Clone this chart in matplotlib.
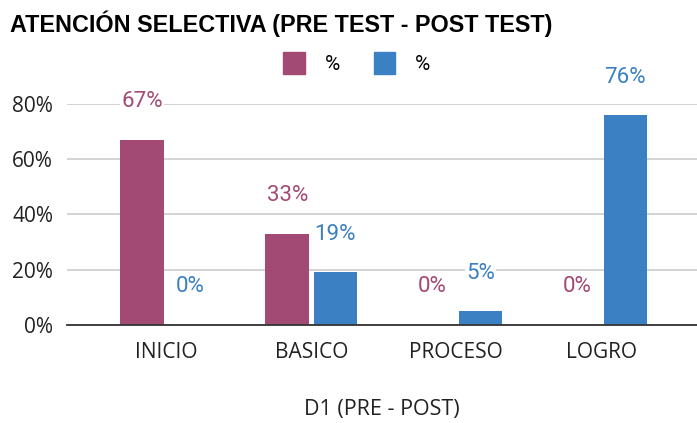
import matplotlib
matplotlib.use("Agg")
import matplotlib.pyplot as plt
import numpy as np
from matplotlib.patches import Patch

categories = ["INICIO", "BASICO", "PROCESO", "LOGRO"]
pre_values = [0.67, 0.33, 0.0, 0.0]
post_values = [0.0, 0.19, 0.05, 0.76]
series_names = ["%", "%"]
yticks = [0, 0.2, 0.4, 0.6, 0.8]
ytick_labels = ["0%", "20%", "40%", "60%", "80%"]

pink = "#A34A74"
blue = "#3B80C2"

fig = plt.figure(figsize=(6.97, 4.23), dpi=100)
ax = fig.add_axes([0.096, 0.2317, 0.904, 0.5225])

x = np.arange(len(categories))
w = 0.30
off = 0.166
ax.bar(x - off, pre_values, w, color=pink, zorder=3)
ax.bar(x + off, post_values, w, color=blue, zorder=3)

for vals, sign, col in [(pre_values, -1, pink), (post_values, 1, blue)]:
    for xi, v in zip(x, vals):
        ax.annotate(f"{round(v*100)}%", (xi + sign * off, v), xytext=(0, 38),
                    textcoords="offset pixels", ha="center", va="center", color=col,
                    fontsize=16, family="Roboto",
                    bbox=dict(facecolor="white", edgecolor="none", pad=1),
                    zorder=4, annotation_clip=False)

ax.set_xlim(-0.685, 3.66)
ax.set_ylim(0, 0.8)
ax.set_yticks(yticks)
ax.set_yticklabels(ytick_labels, fontsize=15, family="Open Sans", color="#222222")
ax.set_xticks(x)
ax.set_xticklabels(categories, fontsize=15, family="Open Sans", color="#222222")
ax.tick_params(axis="both", length=0)
ax.tick_params(axis="x", pad=12)
ax.tick_params(axis="y", pad=10)
ax.grid(axis="y", color="#cccccc", linewidth=1.2, zorder=0)
for s in ["top", "right", "left"]:
    ax.spines[s].set_visible(False)
ax.spines["bottom"].set_color("#333333")
ax.spines["bottom"].set_linewidth(1.3)
ax.spines["bottom"].set_zorder(5)

ax.set_xlabel("D1 (PRE - POST)", fontsize=15.5, family="Open Sans", color="#222222", labelpad=26)

fig.text(0.014, 0.945, "ATENCIÓN SELECTIVA (PRE TEST - POST TEST)", fontsize=16.8,
         fontweight="bold", family="Liberation Sans", color="black", va="center", ha="left")

handles = [Patch(facecolor=pink, edgecolor=pink), Patch(facecolor=blue, edgecolor=blue)]
fig.legend(handles, series_names, loc="center", bbox_to_anchor=(0.512, 0.851), ncol=2,
           frameon=False, prop={"family": "Roboto", "size": 15}, handlelength=1.05,
           handleheight=1.2, columnspacing=1.6, handletextpad=0.95)

fig.savefig("out.png", dpi=100)
